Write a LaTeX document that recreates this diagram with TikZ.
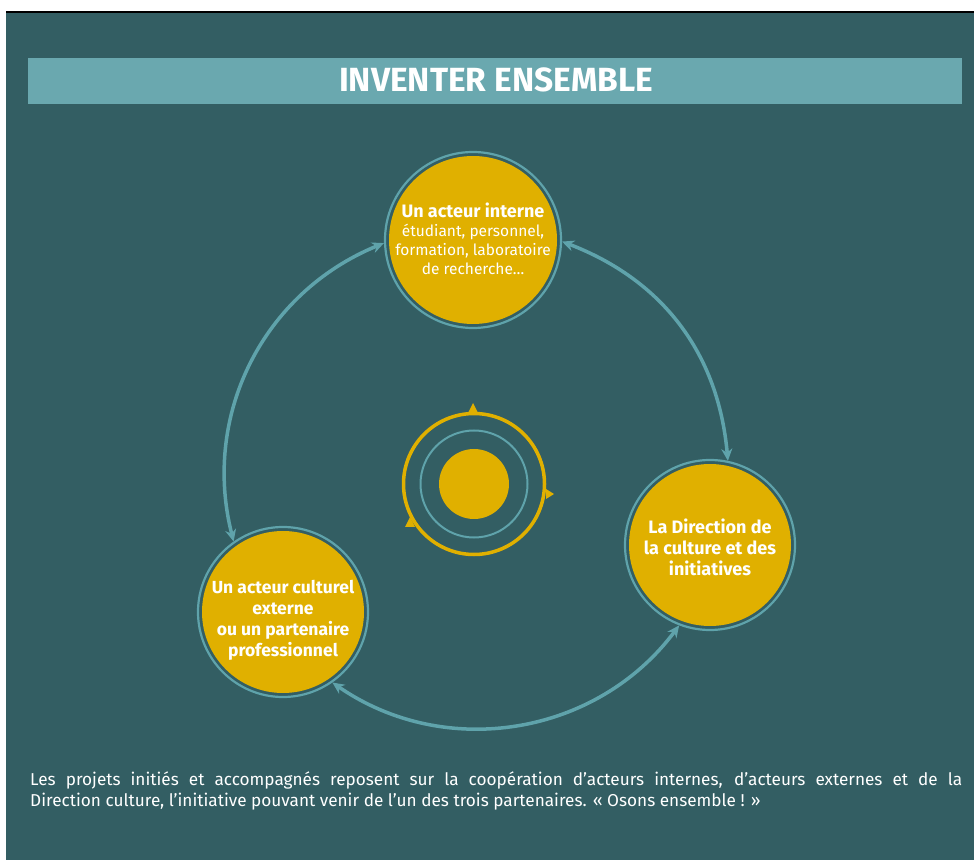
\documentclass[tikz,border=0pt]{standalone}
\usepackage{fontspec}
\setmainfont{Fira Sans}
\usetikzlibrary{arrows.meta}
\definecolor{bg}{RGB}{51,94,99}
\definecolor{bar}{RGB}{106,168,175}
\definecolor{gold}{RGB}{224,176,0}
\definecolor{ringc}{RGB}{95,163,171}
\begin{document}
\begin{tikzpicture}[x=1pt,y=1pt,
  ring/.style={circle, draw=ringc, line width=2.2pt, inner sep=0pt},
  disk/.style={circle, fill=gold, inner sep=0pt},
  txt/.style={text=white, align=center, inner sep=0pt},
  arr/.style={draw=ringc, line width=3.5pt, {Stealth[length=12pt,width=11pt]}-{Stealth[length=12pt,width=11pt]}},
  tri/.style={fill=gold},
]
\useasboundingbox (0,0) rectangle (974,860);
\fill[white] (0,0) rectangle (974,860);
\fill[bg] (6,0) rectangle (974,848);
\draw[black, line width=1.5pt] (6,848) -- (974,848);

% title bar
\node[fill=bar, minimum width=934pt, minimum height=46pt, inner sep=0pt] (bar) at (495,779) {};
\node[txt, font=\bfseries\fontsize{33.5}{36}\selectfont] (title) at (496,780) {INVENTER ENSEMBLE};

% circles
\node[ring, minimum size=176pt] (T) at (473,620) {};
\node[disk, minimum size=168pt] (Tf) at (T) {};
\node[ring, minimum size=170pt] (R) at (710,315) {};
\node[disk, minimum size=162pt] (Rf) at (R) {};
\node[ring, minimum size=170pt] (L) at (283,248) {};
\node[disk, minimum size=162pt] (Lf) at (L) {};

\node[txt, font=\fontsize{15.5}{19}\selectfont] (Tt) at (473,621) {{\bfseries\fontsize{18}{19}\selectfont Un acteur interne}\\
  étudiant, personnel,\\
  formation, laboratoire\\
  de recherche…};
\node[txt, font=\bfseries\fontsize{18}{21}\selectfont] (Rt) at (710,313) {La Direction de\\la culture et des\\initiatives};
\node[txt, font=\bfseries\fontsize{17.5}{21}\selectfont] (Lt) at (283,240) {Un acteur culturel\\externe\\ou un partenaire\\professionnel};

% connectors
\draw[arr] (L.125) to[bend left=41] (T.182);
\draw[arr] (T.-1) to[bend left=32] (R.78);
\draw[arr] (R.249) to[bend left=44] (L.305);

% centre emblem
\coordinate (C) at (474,376);
\fill[gold] (C) circle (35);
\draw[ringc, line width=2pt] (C) circle (53.5);
\draw[gold, line width=3.5pt] (C) circle (70.5);
\fill[tri] (473,457) -- (468,447) -- (478,447) -- cycle;
\fill[tri] (554,366) -- (546,361) -- (546,371) -- cycle;
\fill[tri] (410,343) -- (405,333) -- (415,333) -- cycle;

% bottom text
\node[txt, anchor=north west, text width=932pt, align=justify, font=\fontsize{17.2}{21}\selectfont] (foot) at (30,88)
  {Les projets initiés et accompagnés reposent sur la coopération d’acteurs internes, d’acteurs externes et de la\linebreak Direction culture, l’initiative pouvant venir de l’un des trois partenaires. « Osons ensemble ! »};
\end{tikzpicture}
\end{document}
